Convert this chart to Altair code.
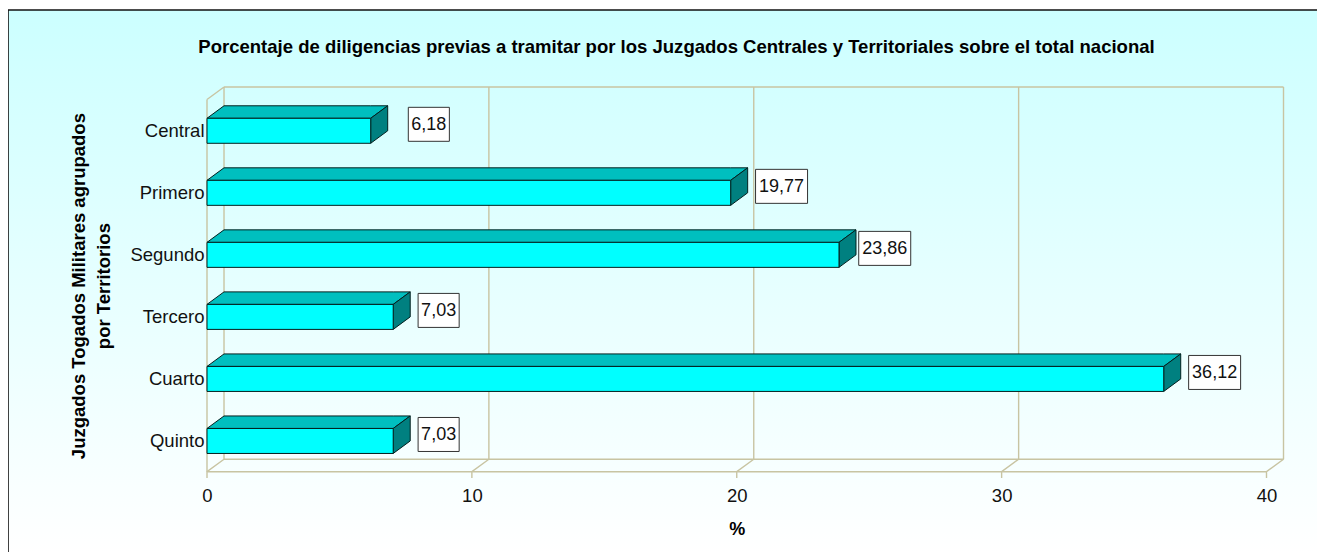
import altair as alt
import pandas as pd

categories = ["Central", "Primero", "Segundo", "Tercero", "Cuarto", "Quinto"]
values = [6.18, 19.77, 23.86, 7.03, 36.12, 7.03]
x_ticks = [0, 10, 20, 30, 40]
title = "Porcentaje de diligencias previas a tramitar por los Juzgados Centrales y Territoriales sobre el total nacional"
y_title = ["Juzgados Togados Militares agrupados", "por Territorios"]
x_title = "%"

W, H = 1309, 544
FONT = "Liberation Sans"
# pseudo-3D depth expressed in data units of both scales
DX, DY = 0.642, 0.2016
F_TOP, F_BOT = 0.303, 0.706
GRID = "#c8c4a2"
OUT = "#03201f"

x_scale = alt.Scale(domain=[0, 40], range=[199, 1258.5], nice=False, zero=False)
y_scale = alt.Scale(domain=[0, 6], range=[91.5, 463.7], nice=False, zero=False)

names = "[" + ",".join(f"'{c}'" for c in categories) + "]"
x_axis = alt.Axis(
    values=x_ticks, title=x_title, grid=False, domain=False, ticks=False, orient="bottom", zindex=1,
    offset=-72, labelFont=FONT, labelFontSize=18.5, labelColor="#111111", labelPadding=6,
    labelFlush=False, titleFont=FONT, titleFontSize=18, titleFontWeight="bold",
    titleColor="#000000", titlePadding=16)
y_axis = alt.Axis(
    values=[i + 0.5 for i in range(6)], labelExpr=f"{names}[floor(datum.value)]",
    title=y_title, grid=False, domain=False, ticks=False, orient="left", zindex=1,
    offset=-199, labelFont=FONT, labelFontSize=18.5, labelColor="#111111", labelPadding=3,
    titleFont=FONT, titleFontSize=18.5, titleFontWeight="bold", titleColor="#000000",
    titlePadding=16, titleLineHeight=25)

# wireframe
wire = []
def seg(name, *pts):
    for k, (a, b) in enumerate(pts):
        wire.append({"g": name, "k": k, "x": a, "y": b})
x_max = x_ticks[-1]
seg("back_top", (DX, -DY), (x_max + DX, -DY))
seg("back_bottom", (DX, 6 - DY), (x_max + DX, 6 - DY))
seg("front_bottom", (0, 6), (x_max, 6))
seg("front_left", (0, 0), (0, 6))
seg("corner", (0, 0), (DX, -DY))
for t in x_ticks:
    seg(f"wall{t}", (t + DX, -DY), (t + DX, 6 - DY))
    seg(f"floor{t}", (t + DX, 6 - DY), (t, 6), (t, 6.1))
wire = pd.DataFrame(wire)

front, top_face, side_face, boxes = [], [], [], []
GAP = {"Central": 1.42, "Segundo": 0.745}
for i, (c, v) in enumerate(zip(categories, values)):
    yt, yb = i + F_TOP, i + F_BOT
    front.append({"c": c, "x0": 0, "x1": v, "y0": yt, "y1": yb})
    for a, b, e in [(0, yt, yt), (DX, yt - DY, yt), (v, yt - DY, yt), (v + DX, yt - DY, yt - DY)]:
        top_face.append({"c": c, "x": a, "y": b, "y2": e})
    for a, b, e in [(v, yt, yb), (v + DX, yt - DY, yb - DY)]:
        side_face.append({"c": c, "x": a, "y": b, "y2": e})
    label = f"{v:.2f}".replace(".", ",")
    bw = 1.963 if len(label) == 5 else 1.55
    bx = v + GAP.get(c, 0.94)
    boxes.append({"label": label, "x0": bx, "x1": bx + bw, "xc": bx + bw / 2,
                  "y0": i + 0.126, "y1": i + 0.674, "yc": i + 0.415})
front, top_face, side_face, boxes = map(pd.DataFrame, (front, top_face, side_face, boxes))

one = pd.DataFrame({"a": [0]})

bg = alt.Chart(one).mark_rect(
    fill={"gradient": "linear", "x1": 0, "y1": 0, "x2": 0, "y2": 1,
          "stops": [{"offset": 0, "color": "#ccffff"}, {"offset": 1, "color": "#ffffff"}]}
).encode(x=alt.value(0), x2=alt.value(W), y=alt.value(2), y2=alt.value(H))
border_top = alt.Chart(one).mark_rule(color="#111111", strokeWidth=1.3).encode(
    x=alt.value(0), x2=alt.value(W), y=alt.value(2))
border_left = alt.Chart(one).mark_rule(color="#111111", strokeWidth=1.6).encode(
    x=alt.value(0), y=alt.value(2), y2=alt.value(H))

X = lambda f="x": alt.X(f"{f}:Q", scale=x_scale, axis=x_axis)
Y = lambda f="y": alt.Y(f"{f}:Q", scale=y_scale, axis=y_axis, stack=None)

wire_layer = alt.Chart(wire).mark_line(color=GRID, strokeWidth=1.4, clip=False).encode(
    x=X(), y=Y(), detail="g:N", order="k:Q")

top_layer = alt.Chart(top_face).mark_area(
    orient="vertical", fill="#00bfbf", stroke=OUT, strokeWidth=1, opacity=1
).encode(x=X(), y=Y(), y2="y2:Q", detail="c:N")
side_layer = alt.Chart(side_face).mark_area(
    orient="vertical", fill="#008080", stroke=OUT, strokeWidth=1, opacity=1
).encode(x=X(), y=Y(), y2="y2:Q", detail="c:N")

front_layer = alt.Chart(front).mark_rect(fill="#00ffff", stroke=OUT, strokeWidth=1).encode(
    x=X("x0"), x2="x1:Q", y=Y("y0"), y2="y1:Q")

box_layer = alt.Chart(boxes).mark_rect(fill="#ffffff", stroke="#333333", strokeWidth=1).encode(
    x=X("x0"), x2="x1:Q", y=Y("y0"), y2="y1:Q")
text_layer = alt.Chart(boxes).mark_text(font=FONT, fontSize=18, color="#111111", baseline="middle").encode(
    x=X("xc"), y=Y("yc"), text="label:N")

chart = alt.layer(bg, border_top, border_left, wire_layer, top_layer, side_layer, front_layer,
                  box_layer, text_layer).properties(
    width=W, height=H, padding=0,
    autosize=alt.AutoSizeParams(type="none"),
    title=alt.TitleParams(title, font=FONT, fontSize=18.55, fontWeight="bold", color="#000000",
                          anchor="middle", dx=14, dy=49, offset=0),
).configure_view(stroke=None)

chart.save("out.html", embed_options={"renderer": "svg", "actions": False})
